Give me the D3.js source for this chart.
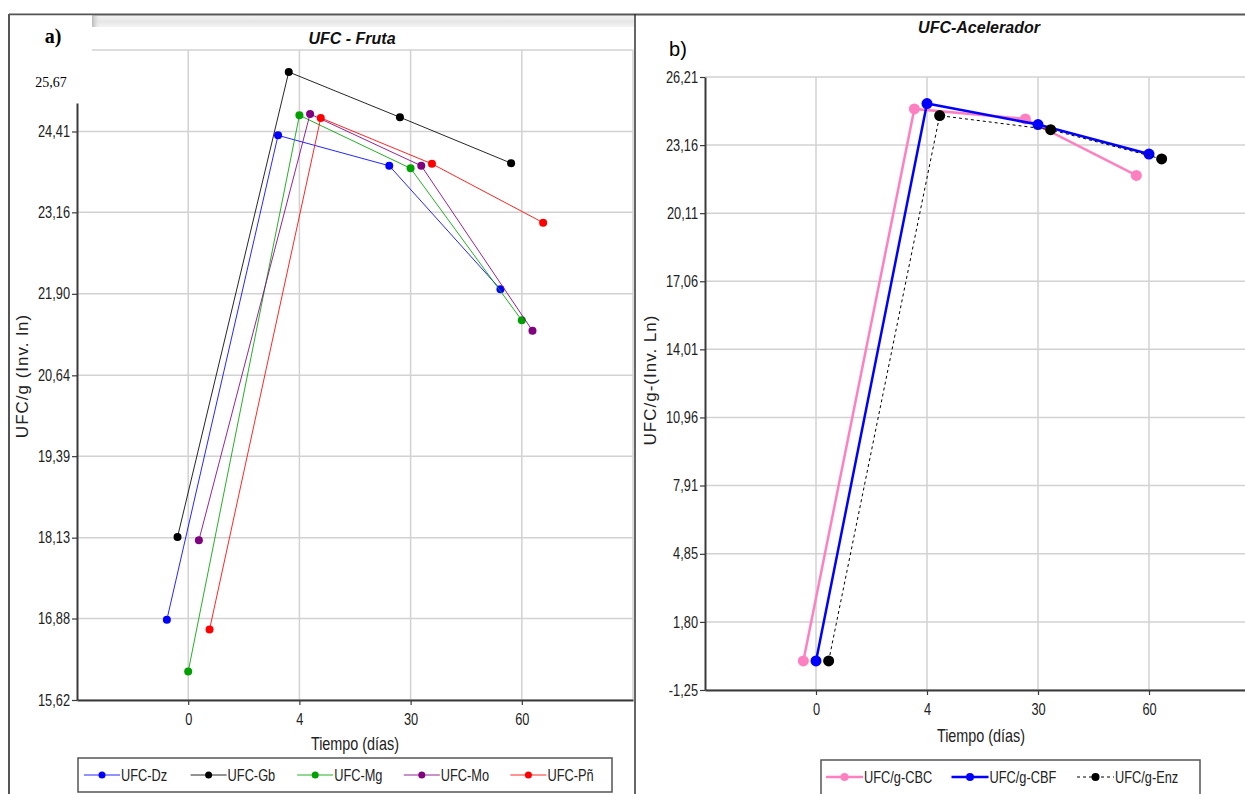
<!DOCTYPE html>
<html>
<head>
<meta charset="utf-8">
<script src="https://cdn.jsdelivr.net/npm/d3@7"></script>
<style>
  body { margin: 0; background: #fff; }
  svg { display: block; }
</style>
</head>
<body>
<svg id="chart" width="1245" height="794"></svg>
<script>
// ---- data ----
const days = ["0", "4", "30", "60"];

const frutaNames = ["UFC-Dz", "UFC-Gb", "UFC-Mg", "UFC-Mo", "UFC-Pñ"];
const frutaDz = [16.86, 24.35, 23.88, 21.97];
const frutaGb = [18.14, 25.33, 24.63, 23.92];
const frutaMg = [16.06, 24.66, 23.84, 21.49];
const frutaMo = [18.09, 24.68, 23.88, 21.33];
const frutaPn = [16.71, 24.62, 23.91, 23.00];
const frutaTicks = ["15,62", "16,88", "18,13", "19,39", "20,64", "21,90", "23,16", "24,41", "25,67"];

const acelNames = ["UFC/g-CBC", "UFC/g-CBF", "UFC/g-Enz"];
const acelCBC = [0.05, 24.78, 24.33, 21.80];
const acelCBF = [0.05, 25.02, 24.08, 22.76];
const acelEnz = [0.05, 24.48, 23.85, 22.54];
const acelTicks = ["-1,25", "1,80", "4,85", "7,91", "10,96", "14,01", "17,06", "20,11", "23,16", "26,21"];

// ---- drawing ----
const svg = d3.select("#chart");
const SANS = '"Liberation Sans", Arial, sans-serif';
const SERIF = '"Liberation Serif", "Times New Roman", serif';
const GRID = "#d2d2d2";
const AXIS = "#3a3a3a";
const num = s => +s.replace(",", ".");

// condense text horizontally while keeping its anchor point in place
function condense(sel, sx) {
  sel.each(function () {
    const t = d3.select(this);
    const x = +t.attr("x") || 0;
    t.attr("x", x / sx).attr("transform", `scale(${sx},1)`);
  });
}

// panel frames
svg.append("line").attr("x1", 9).attr("x2", 1245).attr("y1", 14.5).attr("y2", 14.5)
  .attr("stroke", "#555").attr("stroke-width", 2);
svg.append("line").attr("x1", 9).attr("x2", 9).attr("y1", 14).attr("y2", 794)
  .attr("stroke", "#555").attr("stroke-width", 2);
svg.append("line").attr("x1", 635).attr("x2", 635).attr("y1", 14).attr("y2", 794)
  .attr("stroke", "#333").attr("stroke-width", 1.5);

// shaded header strip of the left panel
const defs = svg.append("defs");
const hg = defs.append("linearGradient").attr("id", "hdr").attr("x1", 0).attr("x2", 0).attr("y1", 0).attr("y2", 1);
hg.append("stop").attr("offset", 0).attr("stop-color", "#f2f2f2");
hg.append("stop").attr("offset", 0.5).attr("stop-color", "#e6e6e6");
hg.append("stop").attr("offset", 1).attr("stop-color", "#f4f4f4");
svg.append("rect").attr("x", 92).attr("y", 16).attr("width", 542).attr("height", 11).attr("fill", "url(#hdr)");
const eg = defs.append("linearGradient").attr("id", "hdrEdge");
eg.append("stop").attr("offset", 0).attr("stop-color", "#b8b8b8");
eg.append("stop").attr("offset", 1).attr("stop-color", "#e6e6e6").attr("stop-opacity", 0);
svg.append("rect").attr("x", 92).attr("y", 16).attr("width", 8).attr("height", 11).attr("fill", "url(#hdrEdge)");

function panel(cfg) {
  const g = svg.append("g");
  const x = d3.scaleLinear().domain([-1, days.length]).range([cfg.left, cfg.right]);
  const y = d3.scaleLinear().domain([num(cfg.ticks[0]), num(cfg.ticks[cfg.ticks.length - 1])])
    .range([cfg.bottom, cfg.top]);
  const tickVals = cfg.ticks.map(num);

  // grid
  g.append("g").selectAll("line").data(tickVals).join("line")
    .attr("x1", cfg.left).attr("x2", cfg.right)
    .attr("y1", d => y(d)).attr("y2", d => y(d))
    .attr("stroke", GRID).attr("stroke-width", 1.5);
  g.append("g").selectAll("line").data(d3.range(days.length + 1)).join("line")
    .attr("x1", d => x(d)).attr("x2", d => x(d))
    .attr("y1", cfg.top).attr("y2", cfg.bottom)
    .attr("stroke", GRID).attr("stroke-width", 1.5);

  // axes
  const yAxis = g.append("g").attr("transform", `translate(${cfg.left},0)`)
    .call(d3.axisLeft(y).tickValues(tickVals).tickFormat((d, i) => cfg.ticks[i])
      .tickSize(5).tickPadding(2).tickSizeOuter(0));
  const xAxis = g.append("g").attr("transform", `translate(0,${cfg.bottom})`)
    .call(d3.axisBottom(x).tickValues(d3.range(days.length)).tickFormat(i => days[i])
      .tickSize(5).tickPadding(9).tickSizeOuter(0));
  [yAxis, xAxis].forEach(a => {
    a.select(".domain").attr("stroke", AXIS).attr("stroke-width", 2);
    a.selectAll(".tick line").attr("stroke", AXIS).attr("stroke-width", 1.2);
    a.selectAll("text").attr("fill", "#222").style("font-family", SANS).style("font-size", "16px")
      .call(condense, 0.8);
  });
  if (cfg.hideTopTick) {
    // the top tick of this axis is relabelled separately
    yAxis.selectAll(".tick").filter((d, i) => i === tickVals.length - 1).remove();
  }

  // series
  cfg.series.forEach((s, si) => {
    const off = (si - (cfg.series.length - 1) / 2) * cfg.jitter;
    const pts = s.values.map((v, i) => [x(i + off), y(v)]);
    g.append("path").attr("d", d3.line()(pts)).attr("fill", "none")
      .attr("stroke", s.color).attr("stroke-width", s.width)
      .attr("stroke-dasharray", s.dash || null).attr("stroke-opacity", s.opacity || 1);
    g.append("g").selectAll("circle").data(pts).join("circle")
      .attr("cx", d => d[0]).attr("cy", d => d[1]).attr("r", cfg.r).attr("fill", s.marker || s.color);
  });

  // title and axis titles
  svg.append("text").attr("x", cfg.titleX).attr("y", cfg.titleY).attr("text-anchor", "middle")
    .style("font-family", SANS).style("font-size", "16px").style("font-weight", "bold").style("font-style", "italic")
    .attr("fill", "#111").text(cfg.title);
  svg.append("text").attr("transform", `translate(${cfg.yTitleX},${cfg.yTitleY}) rotate(-90)`)
    .attr("text-anchor", "middle").attr("dominant-baseline", "central")
    .style("font-family", SANS).style("font-size", "17px").style("letter-spacing", "1px")
    .attr("fill", "#222").text(cfg.yTitle);
  svg.append("text").attr("x", cfg.xTitleX).attr("y", cfg.xTitleY).attr("text-anchor", "middle")
    .attr("dominant-baseline", "central")
    .style("font-family", SANS).style("font-size", "18px").attr("fill", "#222").text("Tiempo (días)")
    .call(condense, 0.8);

  // legend
  const L = cfg.legend;
  svg.append("rect").attr("x", L.x).attr("y", L.y).attr("width", L.w).attr("height", L.h)
    .attr("fill", "#fff").attr("stroke", "#555").attr("stroke-width", 1.5);
  cfg.series.forEach((s, si) => {
    const lx = L.x + L.pad + si * L.step, ly = L.cy;
    svg.append("line").attr("x1", lx).attr("x2", lx + L.len).attr("y1", ly).attr("y2", ly)
      .attr("stroke", s.color).attr("stroke-width", s.width).attr("stroke-dasharray", s.dash || null)
      .attr("stroke-opacity", s.opacity || 1);
    svg.append("circle").attr("cx", lx + L.len / 2).attr("cy", ly).attr("r", L.r).attr("fill", s.marker || s.color);
    svg.append("text").attr("x", lx + L.len + 1).attr("y", ly).attr("dominant-baseline", "central")
      .style("font-family", SANS).style("font-size", "16px").attr("fill", "#222").text(s.name)
      .call(condense, 0.8);
  });
  return { x, y };
}

// a) UFC - Fruta
const frutaValues = [frutaDz, frutaGb, frutaMg, frutaMo, frutaPn];
const frutaColors = ["#0000ff", "#000000", "#00a000", "#800080", "#ff0000"];
panel({
  left: 77, right: 633, top: 50, bottom: 700,
  ticks: frutaTicks, jitter: 0.096, r: 4, hideTopTick: true,
  series: frutaNames.map((n, i) => ({ name: n, values: frutaValues[i], color: frutaColors[i], width: 1, opacity: 0.85 })),
  title: "UFC - Fruta", titleX: 352, titleY: 44,
  yTitle: "UFC/g (Inv. ln)", yTitleX: 22, yTitleY: 376,
  xTitleX: 355, xTitleY: 743,
  legend: { x: 78, y: 758, w: 534, h: 34, cy: 775, pad: 6, step: 106.6, len: 36, r: 3.5 }
});

// corner of panel a) with its own labels
svg.append("rect").attr("x", 10).attr("y", 15.5).attr("width", 82).attr("height", 88).attr("fill", "#fff");
svg.append("text").attr("x", 53).attr("y", 36).attr("text-anchor", "middle").attr("dominant-baseline", "central")
  .style("font-family", SERIF).style("font-size", "20px").style("font-weight", "bold").attr("fill", "#000").text("a)");
svg.append("text").attr("x", 51).attr("y", 82).attr("text-anchor", "middle").attr("dominant-baseline", "central")
  .style("font-family", SERIF).style("font-size", "14px").attr("fill", "#000").text(frutaTicks[frutaTicks.length - 1]);

// b) UFC-Acelerador
const acelValues = [acelCBC, acelCBF, acelEnz];
const acelStyles = [
  { color: "#ff80c0", width: 2.5 },
  { color: "#0000ff", width: 2.5 },
  { color: "#000000", width: 1, dash: "3,3" }
];
panel({
  left: 705, right: 1260, top: 77, bottom: 690,
  ticks: acelTicks, jitter: 0.114, r: 5.5,
  series: acelNames.map((n, i) => Object.assign({ name: n, values: acelValues[i] }, acelStyles[i])),
  title: "UFC-Acelerador", titleX: 979, titleY: 33,
  yTitle: "UFC/g-(Inv. Ln)", yTitleX: 650, yTitleY: 380,
  xTitleX: 981, xTitleY: 735,
  legend: { x: 821, y: 760, w: 379, h: 40, cy: 777, pad: 5, step: 125.5, len: 37, r: 4 }
});
svg.append("text").attr("x", 678).attr("y", 49).attr("text-anchor", "middle").attr("dominant-baseline", "central")
  .style("font-family", SANS).style("font-size", "20px").attr("fill", "#000").text("b)");
</script>
</body>
</html>
